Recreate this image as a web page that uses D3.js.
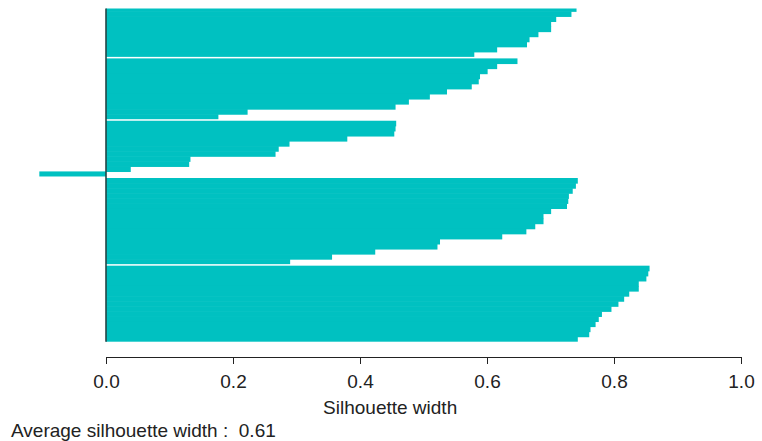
<!DOCTYPE html>
<html>
<head>
<meta charset="utf-8">
<script src="https://cdn.jsdelivr.net/npm/d3@7"></script>
<style>
  html, body { margin: 0; padding: 0; background: #fff; }
  svg { display: block; font-family: "Liberation Sans", Arial, Helvetica, sans-serif; }
</style>
</head>
<body>
<svg id="chart" width="762" height="441"></svg>
<script>
// Silhouette widths per cluster, each sorted from largest to smallest
const cluster1 = [0.741, 0.733, 0.709, 0.701, 0.701, 0.681, 0.667, 0.663, 0.616, 0.580];
const cluster2 = [0.648, 0.616, 0.601, 0.589, 0.587, 0.576, 0.537, 0.510, 0.477, 0.456, 0.223, 0.177];
const cluster3 = [0.457, 0.456, 0.454, 0.380, 0.289, 0.272, 0.267, 0.133, 0.131, 0.039, -0.105];
const cluster4 = [0.743, 0.740, 0.735, 0.729, 0.728, 0.726, 0.701, 0.689, 0.689, 0.676, 0.662, 0.624, 0.526, 0.522, 0.424, 0.356, 0.290];
const cluster5 = [0.856, 0.854, 0.851, 0.839, 0.839, 0.824, 0.816, 0.807, 0.796, 0.781, 0.776, 0.771, 0.763, 0.761, 0.743];

const clusters = [cluster1, cluster2, cluster3, cluster4, cluster5];
const xTicks = [0, 0.2, 0.4, 0.6, 0.8, 1.0];
const xLabel = "Silhouette width";
const avgLabel = "Average silhouette width :  0.61";

const svg = d3.select("#chart");
const barColor = "#00c1c1";
const fontSize = "19px";

// Flatten into rows with a slot position: clusters separated by a small gap
const clusterGap = 0.3;
const rows = [];
let slot = 0;
clusters.forEach((vals, c) => {
  vals.forEach((v, i) => {
    rows.push({ value: v, cluster: c, pos: slot, last: i === vals.length - 1 });
    slot += 1;
  });
  if (c < clusters.length - 1) slot += clusterGap;
});

const minVal = d3.min(rows, d => d.value);
const x = d3.scaleLinear().domain([0, 1]).range([106, 741]);
const y = d3.scaleLinear().domain([0, slot]).range([6.2, 341.7]);
const barH = y(1) - y(0);

svg.append("defs").append("clipPath").attr("id", "plotClip")
  .append("rect").attr("x", 0).attr("y", 8.5).attr("width", 762).attr("height", 440);

const plot = svg.append("g").attr("clip-path", "url(#plotClip)");

plot.selectAll("rect.bar")
  .data(rows)
  .join("rect")
  .attr("class", "bar")
  .attr("x", d => x(Math.min(0, d.value)))
  .attr("y", d => y(d.pos))
  .attr("width", d => Math.abs(x(d.value) - x(0)))
  .attr("height", d => d.last ? barH : barH + 0.6)
  .attr("fill", barColor);

// zero reference line along the left edge of the bars
plot.append("line")
  .attr("x1", x(0)).attr("x2", x(0))
  .attr("y1", y(0)).attr("y2", y(slot))
  .attr("stroke", "#244646")
  .attr("stroke-width", 1.6);

// x axis
const axisG = svg.append("g")
  .attr("transform", "translate(0,357)")
  .call(d3.axisBottom(x)
    .tickValues(xTicks)
    .tickFormat(d3.format(".1f"))
    .tickSize(7)
    .tickSizeOuter(0)
    .tickPadding(11));

axisG.select(".domain").attr("stroke", "#222").attr("stroke-width", 1);
axisG.selectAll(".tick line").attr("stroke", "#222").attr("stroke-width", 1);
axisG.selectAll(".tick text")
  .attr("fill", "#222")
  .style("font-size", fontSize)
  .style("font-family", "'Liberation Sans', Arial, sans-serif");

// axis title centred on the full plotting range, including negative widths
svg.append("text")
  .attr("x", (x(Math.min(0, minVal)) + x(1)) / 2)
  .attr("y", 414)
  .attr("text-anchor", "middle")
  .attr("fill", "#222")
  .style("font-size", fontSize)
  .text(xLabel);

svg.append("text")
  .attr("x", 11)
  .attr("y", 437)
  .attr("fill", "#222")
  .style("font-size", fontSize)
  .style("white-space", "pre")
  .attr("xml:space", "preserve")
  .text(avgLabel);
</script>
</body>
</html>
